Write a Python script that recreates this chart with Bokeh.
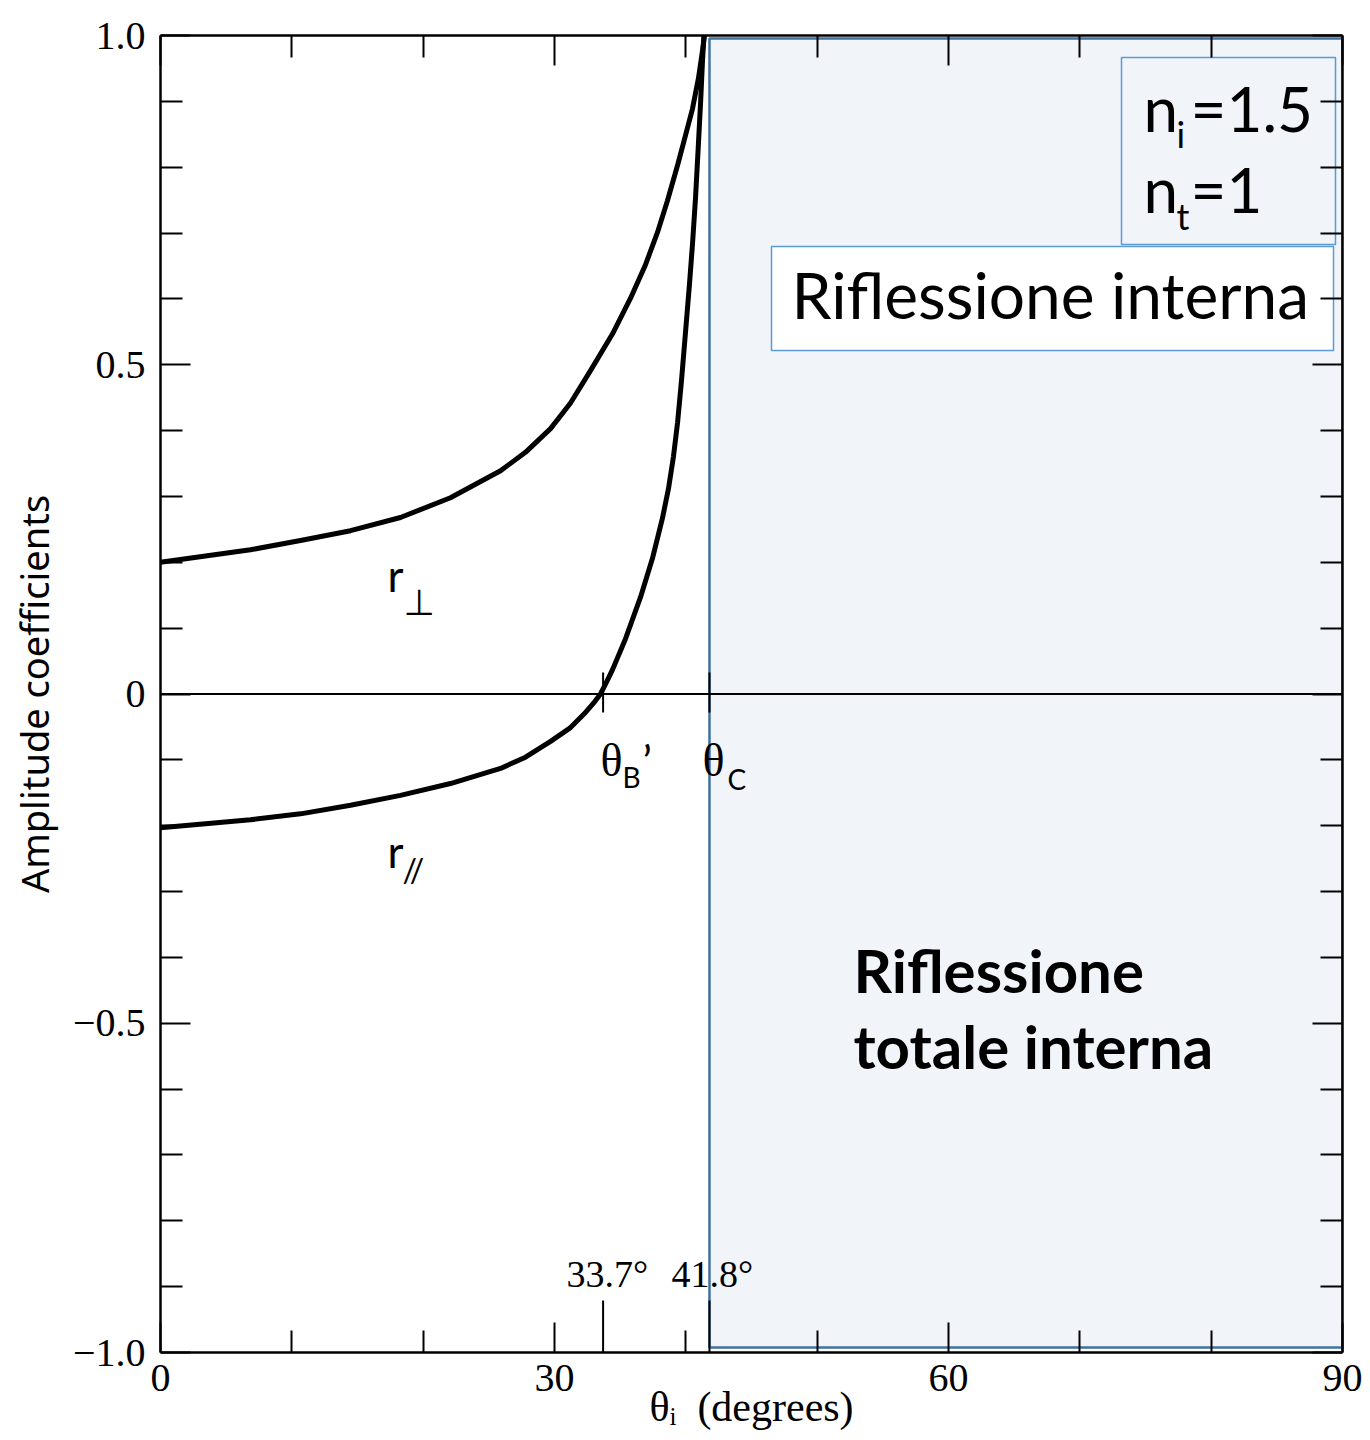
import math
from bokeh.plotting import figure
from bokeh.models import LinearAxis, FixedTicker, Label, Span
from bokeh.embed import file_html
from bokeh.resources import INLINE

# ---------------- data ----------------
theta_perp = [0, 6.85, 10.66, 14.47, 18.27, 22.08, 25.89, 27.79, 29.70, 31.22, 32.74,
              34.42, 35.79, 36.93, 37.84, 38.60, 39.37, 39.97, 40.51, 40.96, 41.27, 41.42]
r_perp = [0.200, 0.219, 0.233, 0.248, 0.268, 0.298, 0.339, 0.367, 0.403, 0.442, 0.491,
          0.547, 0.601, 0.652, 0.701, 0.749, 0.803, 0.848, 0.889, 0.935, 0.977, 1.0]

theta_par = [0, 6.85, 10.66, 14.47, 18.27, 22.08, 25.89, 27.79, 29.70, 31.22, 32.36,
             32.97, 33.50, 33.96, 34.42, 35.41, 36.55, 37.46, 38.22, 38.68, 39.06,
             39.37, 39.67, 39.97, 40.28, 40.51, 40.74, 40.96, 41.12, 41.27, 41.38]
r_par = [-0.203, -0.191, -0.182, -0.169, -0.154, -0.136, -0.113, -0.096, -0.072, -0.051,
         -0.028, -0.014, 0.0, 0.018, 0.037, 0.084, 0.147, 0.206, 0.267, 0.312, 0.361,
         0.412, 0.476, 0.548, 0.623, 0.684, 0.754, 0.836, 0.897, 0.962, 1.0]

x_major = [0, 30, 60, 90]
x_minor = [10, 20, 40, 50, 70, 80]
y_major = [-1, -0.5, 0, 0.5, 1]
y_minor = [-0.9, -0.8, -0.7, -0.6, -0.4, -0.3, -0.2, -0.1,
           0.1, 0.2, 0.3, 0.4, 0.6, 0.7, 0.8, 0.9]
y_tick_labels = ["\u22121.0", "\u22120.5", "0", "0.5", "1.0"]

brewster_angle = 33.7
critical_angle = 41.8
special_labels = ["33.7\u00b0", "41.8\u00b0"]

# ---------------- layout ----------------
W, H = 1370, 1440
L, R, T, B = 160, 1342, 35, 1352
X0, X1, Y0, Y1 = 0, 90, -1, 1


def dx(px):
    return X0 + (px - L) * (X1 - X0) / (R - L)


def dy(py):
    return Y1 - (py - T) * (Y1 - Y0) / (B - T)


p = figure(width=W, height=H, x_range=(X0, X1), y_range=(Y0, Y1),
           output_backend="svg", toolbar_location=None,
           x_axis_location=None, y_axis_location=None,
           min_border_left=L, min_border_right=W - R,
           min_border_top=T, min_border_bottom=H - B)
p.xgrid.grid_line_color = None
p.ygrid.grid_line_color = None
p.outline_line_color = None
p.background_fill_color = "white"
p.border_fill_color = "white"

BLUE_DARK = "#41719c"
BLUE = "#5b9bd5"
FILL = "#f1f5fa"

# total internal reflection region
p.quad(left=[critical_angle], right=[X1], top=[dy(38)], bottom=[dy(1347)],
       fill_color=FILL, line_color=BLUE_DARK, line_width=2.5)

# text boxes
p.quad(left=[dx(1121)], right=[dx(1335)], top=[dy(57)], bottom=[dy(244)],
       fill_color=FILL, line_color=BLUE, line_width=1.5)
p.quad(left=[dx(771)], right=[dx(1333)], top=[dy(246)], bottom=[dy(350)],
       fill_color="white", line_color=BLUE, line_width=1.5)

# zero line
p.add_layout(Span(location=0, dimension="width", line_color="black", line_width=2))

# curves
p.line(theta_perp, r_perp, line_color="black", line_width=5, line_join="round")
p.line(theta_par, r_par, line_color="black", line_width=5, line_join="round")

# special ticks
sp = [brewster_angle, critical_angle]
p.segment(x0=sp, y0=[-1, -1], x1=sp, y1=[dy(1300), dy(1300)], line_color="black", line_width=2)
p.segment(x0=sp, y0=[dy(672), dy(672)], x1=sp, y1=[dy(712), dy(712)], line_color="black", line_width=2)

# ---------------- axes ----------------
SERIF = "Liberation Serif"


def make_axis(ticks, minor, labels=True, overrides=None, standoff=10, size="40px"):
    ax = LinearAxis(ticker=FixedTicker(ticks=ticks, minor_ticks=minor),
                    axis_line_width=2.5, axis_line_color="black",
                    major_tick_in=30, major_tick_out=0, major_tick_line_width=2,
                    minor_tick_in=22, minor_tick_out=0, minor_tick_line_width=2,
                    major_label_text_font=SERIF, major_label_text_color="black")
    if labels:
        ax.major_label_text_font_size = size
        ax.major_label_standoff = standoff
        if overrides:
            ax.major_label_overrides = overrides
    else:
        ax.major_label_overrides = {t: "" for t in ticks}
        ax.major_label_text_font_size = "8px"
        ax.major_label_standoff = 0
    return ax


left_ax = make_axis(y_major, y_minor, True, dict(zip(y_major, y_tick_labels)), 15, "40px")
left_ax.axis_label = "Amplitude coefficients"
left_ax.axis_label_text_font = "Noto Sans"
left_ax.axis_label_text_font_size = "38px"
left_ax.axis_label_text_font_style = "normal"
left_ax.axis_label_text_color = "black"
left_ax.axis_label_standoff = 10
p.add_layout(left_ax, "left")
p.add_layout(make_axis(y_major, y_minor, False), "right")

bottom_ax = make_axis(x_major, x_minor, True, None, 12, "40px")
bottom_ax.axis_label = "\u03b8\u1d62\u2002(degrees)"
bottom_ax.axis_label_text_font = SERIF
bottom_ax.axis_label_text_font_size = "42px"
bottom_ax.axis_label_text_font_style = "normal"
bottom_ax.axis_label_text_color = "black"
bottom_ax.axis_label_standoff = -10
p.add_layout(bottom_ax, "below")
p.add_layout(make_axis(x_major, x_minor, False), "above")


# ---------------- texts ----------------
def txt(px, py, text, font="Lato", size=40, style="normal", align="left"):
    p.add_layout(Label(x=dx(px), y=dy(py - 0.4 * size), text=text, text_font=font,
                       text_font_size=f"{size}px", text_font_style=style,
                       text_align=align, text_baseline="alphabetic",
                       text_color="black"))


# n_i, n_t
txt(1143, 132, "n", size=62)
txt(1176, 148, "i", size=36)
txt(1190, 132, "=1.5", size=62)
txt(1143, 213, "n", size=62)
txt(1176, 230, "t", size=36)
txt(1190, 213, "=1", size=62)

txt(791, 320, "Riflessione interna", size=64)
txt(853, 993, "Riflessione", size=60, style="bold")
txt(853, 1069, "totale interna", size=60, style="bold")

# theta_B', theta_C
txt(600, 778, "\u03b8", font=SERIF, size=46)
txt(622, 788, "B", size=28)
txt(642, 778, "\u2019", size=44)
txt(702, 778, "\u03b8", font=SERIF, size=46)
txt(727, 790, "C", size=28)

# r labels
txt(387, 592, "r", size=44)
txt(403, 616, "\u22a5", font="DejaVu Sans", size=36)
txt(387, 868, "r", size=44)
txt(402, 882, "//", size=32)

# angle values
txt(566, 1289, special_labels[0], font=SERIF, size=38)
txt(671, 1289, special_labels[1], font=SERIF, size=38)

open("out.html", "w").write(file_html(p, INLINE))
